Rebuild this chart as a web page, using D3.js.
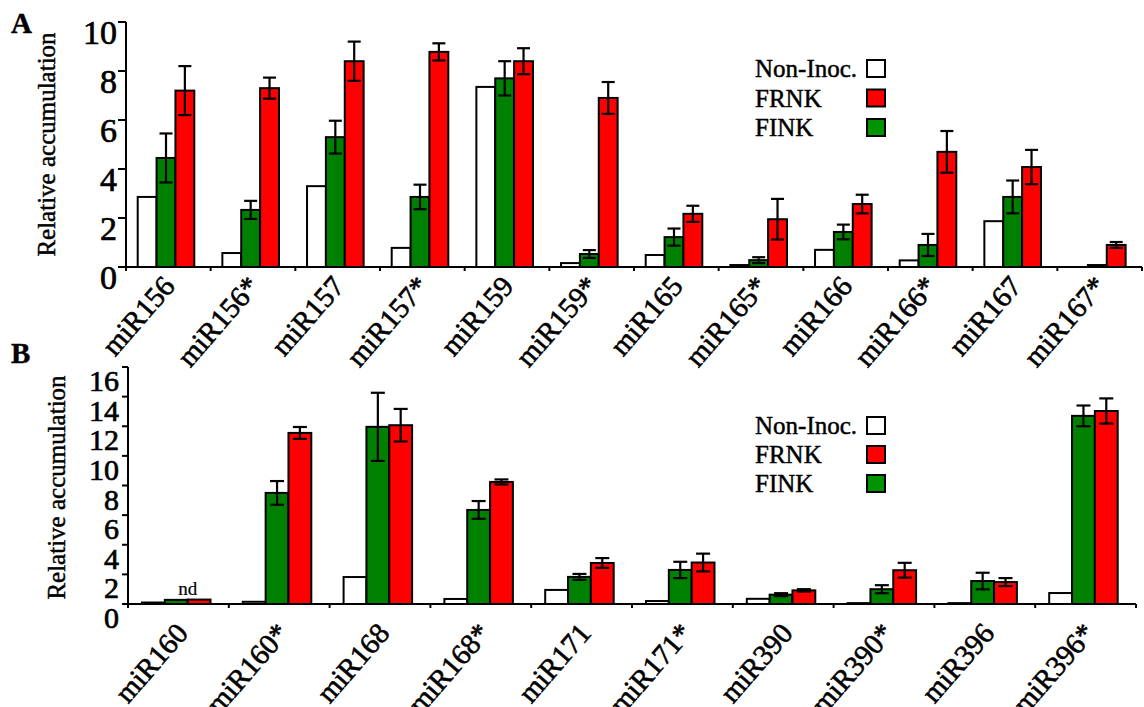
<!DOCTYPE html>
<html><head><meta charset="utf-8">
<script src="https://cdn.jsdelivr.net/npm/d3@7"></script>
<style>html,body{margin:0;padding:0;background:#fff}svg{display:block}
text{font-family:'Liberation Serif','Times New Roman',Times,serif;fill:#000;stroke:#000;stroke-width:0.45px}</style>
</head><body>
<svg id="c" width="1144" height="707"></svg>
<script>
// ---------- DATA ----------
const legendLabels = ["Non-Inoc.", "FRNK", "FINK"];

const catsA = ["miR156","miR156*","miR157","miR157*","miR159","miR159*","miR165","miR165*","miR166","miR166*","miR167","miR167*"];
const nonA     = [2.86, 0.57, 3.30, 0.78, 7.35, 0.16, 0.49, 0.08, 0.70, 0.27, 1.87, 0.00];
const finkA    = [4.45, 2.33, 5.30, 2.86, 7.70, 0.53, 1.22, 0.28, 1.43, 0.90, 2.86, 0.08];
const finkErrA = [1.00, 0.37, 0.67, 0.50, 0.70, 0.16, 0.35, 0.12, 0.30, 0.45, 0.67, 0.00];
const frnkA    = [7.20, 7.30, 8.40, 8.78, 8.40, 6.90, 2.17, 1.95, 2.57, 4.70, 4.08, 0.90];
const frnkErrA = [1.00, 0.43, 0.80, 0.35, 0.53, 0.65, 0.33, 0.83, 0.38, 0.85, 0.70, 0.12];
const yTicksA  = [0, 2, 4, 6, 8, 10];

const catsB = ["miR160","miR160*","miR168","miR168*","miR171","miR171*","miR390","miR390*","miR396","miR396*"];
const nonB     = [0.10, 0.15, 1.82, 0.34, 0.95, 0.20, 0.35, 0.06, 0.06, 0.74];
const finkB    = [0.28, 7.50, 11.96, 6.35, 1.83, 2.30, 0.63, 1.00, 1.55, 12.70];
const finkErrB = [0.00, 0.80, 2.30, 0.60, 0.20, 0.55, 0.10, 0.27, 0.56, 0.70];
const frnkB    = [0.30, 11.55, 12.07, 8.24, 2.77, 2.80, 0.92, 2.28, 1.48, 13.03];
const frnkErrB = [0.00, 0.40, 1.10, 0.17, 0.33, 0.60, 0.08, 0.50, 0.27, 0.85];
const yTicksB  = [0, 2, 4, 6, 8, 10, 12, 14, 16];
const ndLabel = "nd";

// ---------- DRAW ----------
const svg = d3.select("#c");
svg.append("rect").attr("width",1144).attr("height",707).attr("fill","#fff");
const barFill = {non:"#ffffff", fink:"#008000", frnk:"#ff0000"};
const legFill = ["#ffffff", "#ff0000", "#009400"];

function panel(o){
  const g = svg.append("g");
  const x0 = d3.scaleBand().domain(o.cats).range([o.left, o.right]).paddingInner(0).paddingOuter(0);
  const x1 = d3.scaleBand().domain(["non","fink","frnk"]).range([o.grpOff, o.grpOff + o.grpW]);
  const y = d3.scaleLinear().domain([0, o.ymax]).range([o.bottom, o.top]);

  const rows = o.cats.map((c,i)=>({c, vals:[
    {k:"non", v:o.non[i], e:null},
    {k:"fink", v:o.fink[i], e:o.finkErr[i]},
    {k:"frnk", v:o.frnk[i], e:o.frnkErr[i]}
  ]}));

  const grp = g.selectAll("g.cat").data(rows).join("g")
    .attr("transform", d=>`translate(${x0(d.c)},0)`);
  grp.selectAll("rect").data(d=>d.vals).join("rect")
    .attr("x", d=>x1(d.k)).attr("width", x1.bandwidth())
    .attr("y", d=>y(d.v)).attr("height", d=>Math.max(0, y(0)-y(d.v)))
    .attr("fill", d=>barFill[d.k]).attr("stroke","#000").attr("stroke-width",2);

  const errs = grp.selectAll("g.err").data(d=>d.vals.filter(v=>v.e && v.e>0)).join("g")
    .attr("stroke","#000").attr("stroke-width",2.2);
  const cx = d=>x1(d.k)+x1.bandwidth()/2;
  errs.append("line").attr("x1",cx).attr("x2",cx)
    .attr("y1",d=>y(d.v+d.e)).attr("y2",d=>y(d.v-d.e));
  errs.append("line").attr("x1",d=>cx(d)-o.cap/2).attr("x2",d=>cx(d)+o.cap/2)
    .attr("y1",d=>y(d.v+d.e)).attr("y2",d=>y(d.v+d.e));
  errs.append("line").attr("x1",d=>cx(d)-o.cap/2).attr("x2",d=>cx(d)+o.cap/2)
    .attr("y1",d=>y(d.v-d.e)).attr("y2",d=>y(d.v-d.e));

  // axes
  const ax = g.append("g").attr("stroke","#000").attr("stroke-width",2);
  ax.append("line").attr("x1",o.left).attr("x2",o.left).attr("y1",o.top).attr("y2",o.bottom+3);
  ax.append("line").attr("x1",o.left).attr("x2",o.right).attr("y1",o.bottom).attr("y2",o.bottom);
  ax.selectAll("line.yt").data(o.yTicks).join("line").attr("class","yt")
    .attr("x1",o.left-o.ytl).attr("x2",o.left).attr("y1",d=>y(d)).attr("y2",d=>y(d));
  const bounds = o.cats.map(c=>x0(c)).concat([o.right]);
  ax.selectAll("line.xt").data(bounds).join("line").attr("class","xt")
    .attr("x1",d=>d).attr("x2",d=>d).attr("y1",o.bottom).attr("y2",o.bottom+4);

  g.selectAll("text.yl").data(o.yTicks).join("text").attr("class","yl")
    .attr("x", o.left-9).attr("y", d=>y(d)+o.ytdy)
    .attr("text-anchor","end").attr("font-size",o.yfs).style("stroke-width","0.7px")
    .text(d=>d);

  g.selectAll("text.xl").data(o.cats).join("text").attr("class","xl")
    .attr("text-anchor","end").attr("font-size",29).style("stroke-width","0.6px")
    .attr("transform", d=>`translate(${x0(d)+x0.bandwidth()/2+o.xldx},${o.bottom+o.xldy}) rotate(-49)`)
    .text(d=>d);

  g.append("text").attr("font-size",25)
    .attr("text-anchor","middle")
    .attr("transform",`translate(${o.ylabX},${(o.top+o.bottom)/2+o.ylabDy}) rotate(-90)`)
    .text("Relative accumulation");

  g.append("text").attr("x",11).attr("y",o.letterY)
    .attr("font-weight","bold").attr("font-size",29).text(o.letter);

  // legend
  const lg = g.append("g");
  legendLabels.forEach((t,i)=>{
    const by = o.legY + i*o.legStep;
    lg.append("text").attr("x",755).attr("y",by).attr("font-size",25).text(t);
    lg.append("rect").attr("x",867).attr("y",by-17).attr("width",18).attr("height",17)
      .attr("fill",legFill[i]).attr("stroke","#000").attr("stroke-width",2);
  });
  return {x0,x1,y,g};
}

panel({cats:catsA, non:nonA, fink:finkA, finkErr:finkErrA, frnk:frnkA, frnkErr:frnkErrA,
  yTicks:yTicksA, ymax:10, left:126, right:1142, top:22, bottom:267, grpOff:11.7, grpW:56.6, cap:13,
  ytl:8, ytdy:22, yfs:34, xldx:8, xldy:20, ylabX:55, ylabDy:0, letter:"A", letterY:33,
  legY:77, legStep:29.5});

const pB = panel({cats:catsB, non:nonB, fink:finkB, finkErr:finkErrB, frnk:frnkB, frnkErr:frnkErrB,
  yTicks:yTicksB, ymax:16, left:128, right:1136, top:367, bottom:604, grpOff:14, grpW:68.5, cap:14,
  ytl:6, ytdy:24, yfs:30, xldx:11, xldy:30, ylabX:65, ylabDy:2, letter:"B", letterY:363,
  legY:434, legStep:29});

pB.g.append("text").attr("font-size",19).attr("text-anchor","middle").style("stroke-width","0.2px")
  .attr("x", pB.x0(catsB[0]) + pB.x1("frnk")).attr("y", 595).text(ndLabel);
</script>
</body></html>
